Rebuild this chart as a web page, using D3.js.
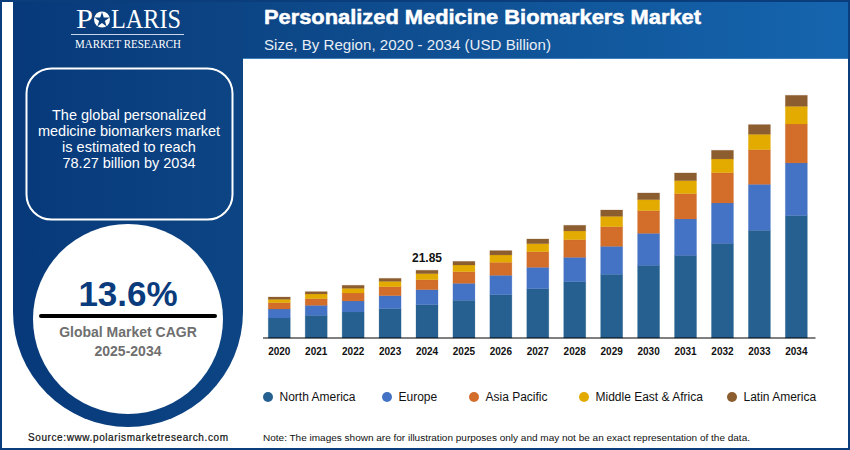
<!DOCTYPE html>
<html>
<head>
<meta charset="utf-8">
<title>Personalized Medicine Biomarkers Market</title>
<script src="https://cdn.jsdelivr.net/npm/d3@7"></script>
<style>
html, body { margin: 0; padding: 0; background: #fff; }
svg { display: block; }
text { font-family: "Liberation Sans", Arial, sans-serif; }
.logo { font-family: "Liberation Serif", serif; fill: #fff; }
</style>
</head>
<body>
<div id="chart"></div>
<script>
var years = ["2020","2021","2022","2023","2024","2025","2026","2027","2028","2029","2030","2031","2032","2033","2034"];
var regions = ["North America","Europe","Asia Pacific","Middle East & Africa","Latin America"];
var regionColors = ["#256090","#4472C4","#D26D2A","#E3AB00","#8C5D2F"];

var northAmerica = [6.45,7.31,8.39,9.46,10.75,12.15,13.98,15.91,18.17,20.54,23.44,26.67,30.54,34.73,39.50];
var europe       = [2.90,3.23,3.55,4.19,4.84,5.48,6.24,6.88,7.85,9.03,10.32,11.72,13.01,14.84,16.96];
var asiaPacific  = [2.04,2.15,2.58,2.90,3.23,3.76,4.19,5.05,5.70,6.34,7.31,8.17,9.78,11.18,12.56];
var middleEast   = [1.08,1.51,1.51,1.72,1.94,2.15,2.37,2.58,2.80,3.33,3.55,4.19,4.41,4.95,5.70];
var latinAmerica = [0.75,0.75,0.97,0.97,1.09,1.18,1.40,1.51,1.83,2.04,2.15,2.47,2.80,3.12,3.55];
var seriesValues = [northAmerica, europe, asiaPacific, middleEast, latinAmerica];

var labelYear = "2024";
var labelValue = "21.85";
var summaryLines = ["The global personalized","medicine biomarkers market","is estimated to reach","78.27 billion by 2034"];

var svg = d3.select("#chart").append("svg")
	.attr("width", 850)
	.attr("height", 450)
	.attr("viewBox", "0 0 850 450");

var defs = svg.append("defs");
var panelGrad = defs.append("linearGradient").attr("id", "panelGrad");
panelGrad.append("stop").attr("offset", "0%").attr("stop-color", "#07397a");
panelGrad.append("stop").attr("offset", "100%").attr("stop-color", "#0d4584");
var headGrad = defs.append("linearGradient").attr("id", "headGrad");
headGrad.append("stop").attr("offset", "0%").attr("stop-color", "#0c4585");
headGrad.append("stop").attr("offset", "100%").attr("stop-color", "#1565ae");

/***** frame and panels *****/
svg.append("rect").attr("width", 850).attr("height", 450).attr("fill", "#0a3d7c");
svg.append("rect").attr("x", 2).attr("y", 2).attr("width", 846).attr("height", 446).attr("fill", "#fff");
svg.append("rect").attr("x", 243).attr("y", 2).attr("width", 605).attr("height", 57).attr("fill", "url(#headGrad)");
svg.append("rect").attr("x", 243).attr("y", 58).attr("width", 605).attr("height", 1).attr("fill", "#3f7fbc");

// left panel: straight down to the ring centre, then the ring closes it
svg.append("path")
	.attr("d", "M13 2H243V312A115 115 0 0 1 13 312Z")
	.attr("fill", "url(#panelGrad)");
svg.append("circle").attr("cx", 128).attr("cy", 319).attr("r", 95).attr("fill", "#fff");

svg.append("rect")
	.attr("x", 26.5).attr("y", 68.5)
	.attr("width", 206).attr("height", 151)
	.attr("rx", 25)
	.attr("fill", "none")
	.attr("stroke", "#fff")
	.attr("stroke-width", 2);

svg.selectAll(".summary")
	.data(summaryLines)
	.enter().append("text")
	.attr("class", "summary")
	.attr("x", 129)
	.attr("y", function(d, i) { return 120 + i * 16; })
	.attr("text-anchor", "middle")
	.attr("font-size", 14.5)
	.attr("fill", "#fff")
	.text(function(d) { return d; });

/***** logo *****/
svg.append("text").attr("class", "logo").attr("x", 76).attr("y", 28).attr("font-size", 27)
	.attr("textLength", 17).attr("lengthAdjust", "spacingAndGlyphs").text("P");
svg.append("circle").attr("cx", 102).attr("cy", 19.5).attr("r", 8).attr("fill", "#fff");
svg.append("path")
	.attr("d", d3.symbol().type(d3.symbolStar).size(70)())
	.attr("transform", "translate(102,20)")
	.attr("fill", "#0a3d7c");
svg.append("text").attr("class", "logo").attr("x", 111).attr("y", 28).attr("font-size", 27)
	.attr("textLength", 70).attr("lengthAdjust", "spacingAndGlyphs").text("LARIS");
svg.append("rect").attr("x", 71).attr("y", 34).attr("width", 113).attr("height", 1).attr("fill", "#c9d6e6");
svg.append("text").attr("class", "logo").attr("x", 75).attr("y", 47.5).attr("font-size", 12)
	.attr("textLength", 106).attr("lengthAdjust", "spacingAndGlyphs").text("MARKET RESEARCH");

/***** header text *****/
svg.append("text")
	.attr("x", 264).attr("y", 24)
	.attr("font-size", 20.5)
	.attr("font-weight", "bold")
	.attr("fill", "#fff")
	.attr("stroke", "#fff")
	.attr("stroke-width", 0.5)
	.attr("textLength", 437)
	.attr("lengthAdjust", "spacingAndGlyphs")
	.text("Personalized Medicine Biomarkers Market");
svg.append("text")
	.attr("x", 264).attr("y", 50)
	.attr("font-size", 15.1)
	.attr("fill", "#e8eef5")
	.text("Size, By Region, 2020 - 2034 (USD Billion)");

/***** CAGR circle *****/
svg.append("text")
	.attr("x", 128).attr("y", 306)
	.attr("text-anchor", "middle")
	.attr("font-size", 35)
	.attr("font-weight", "bold")
	.attr("fill", "#0a3b7c")
	.text("13.6%");
svg.append("line")
	.attr("x1", 41).attr("x2", 215)
	.attr("y1", 316).attr("y2", 316)
	.attr("stroke", "#000")
	.attr("stroke-width", 4)
	.attr("stroke-linecap", "round");
svg.selectAll(".cagr")
	.data(["Global Market CAGR", "2025-2034"])
	.enter().append("text")
	.attr("class", "cagr")
	.attr("x", 128)
	.attr("y", function(d, i) { return 337 + i * 19; })
	.attr("text-anchor", "middle")
	.attr("font-size", 14)
	.attr("font-weight", "bold")
	.attr("fill", "#6f6f6f")
	.text(function(d) { return d; });

/***** stacked bars *****/
var stackData = years.map(function(y, i) {
	var row = { year: y };
	regions.forEach(function(r, k) { row[r] = seriesValues[k][i]; });
	return row;
});
var stacked = d3.stack().keys(regions)(stackData);

var x = d3.scaleBand()
	.domain(years)
	.range([260.8, 814.8])
	.paddingInner(0.404)
	.paddingOuter(0.202);
var y = d3.scaleLinear()
	.domain([0, 78.27])
	.range([338, 95.3]);
var color = d3.scaleOrdinal().domain(regions).range(regionColors);

svg.selectAll(".series")
	.data(stacked)
	.enter().append("g")
	.attr("class", "series")
	.attr("fill", function(d) { return color(d.key); })
	.attr("stroke", function(d) { return color(d.key); })
	.attr("stroke-opacity", 0.3)
	.attr("stroke-width", 0.8)
	.selectAll("rect")
	.data(function(d) { return d; })
	.enter().append("rect")
	.attr("x", function(d) { return x(d.data.year); })
	.attr("y", function(d) { return y(d[1]); })
	.attr("width", x.bandwidth())
	.attr("height", function(d) { return y(d[0]) - y(d[1]); });

svg.append("line")
	.attr("x1", 263).attr("x2", 815.5)
	.attr("y1", y(0)).attr("y2", y(0))
	.attr("stroke", "#000")
	.attr("stroke-width", 1);

var xAxis = svg.append("g")
	.attr("transform", "translate(0," + y(0) + ")")
	.call(d3.axisBottom(x).tickSize(0).tickPadding(10));
xAxis.select(".domain").remove();
xAxis.selectAll("text")
	.attr("font-family", "Liberation Sans")
	.attr("font-size", 10)
	.attr("font-weight", "bold")
	.attr("fill", "#111");

var yearIndex = years.indexOf(labelYear);
svg.append("text")
	.attr("x", x(labelYear) + x.bandwidth() / 2)
	.attr("y", y(stacked[4][yearIndex][1]) - 8.5)
	.attr("text-anchor", "middle")
	.attr("font-size", 12)
	.attr("font-weight", "bold")
	.attr("fill", "#111")
	.text(labelValue);

/***** legend *****/
var legendX = [268, 387, 474, 584, 732];
var legend = svg.selectAll(".legend")
	.data(regions)
	.enter().append("g")
	.attr("class", "legend")
	.attr("transform", function(d, i) { return "translate(" + legendX[i] + ",397)"; });
legend.append("circle")
	.attr("r", 5)
	.attr("fill", function(d) { return color(d); });
legend.append("text")
	.attr("x", 11.5)
	.attr("y", 4)
	.attr("font-size", 12)
	.attr("fill", "#111")
	.text(function(d) { return d; });

/***** footer *****/
svg.append("text")
	.attr("x", 28).attr("y", 441)
	.attr("font-size", 10)
	.attr("fill", "#111")
	.attr("stroke", "#111")
	.attr("stroke-width", 0.2)
	.attr("textLength", 200)
	.text("Source:www.polarismarketresearch.com");
svg.append("text")
	.attr("x", 263).attr("y", 441)
	.attr("font-size", 9.6)
	.attr("fill", "#111")
	.attr("textLength", 487)
	.attr("lengthAdjust", "spacingAndGlyphs")
	.text("Note: The images shown are for illustration purposes only and may not be an exact representation of the data.");
</script>
</body>
</html>
